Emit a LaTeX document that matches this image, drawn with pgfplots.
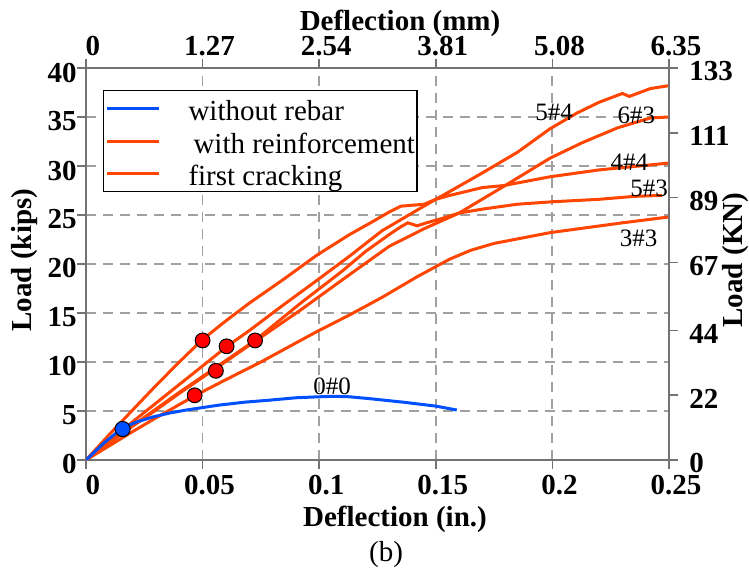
\documentclass[border=0pt]{standalone}
\usepackage{fontspec}
\setmainfont{Liberation Serif}
\usepackage{pgfplots}
\pgfplotsset{compat=1.18}
\definecolor{cOr}{RGB}{255,69,0}
\definecolor{cBl}{RGB}{0,80,255}
\definecolor{cAx}{RGB}{115,115,115}
\definecolor{cGr}{RGB}{160,160,160}
\begin{document}
\begin{tikzpicture}
\pgfplotsset{
 base/.style={scale only axis, width=291.5pt, height=196pt,
   xmin=0,xmax=0.25,ymin=0,ymax=40,
   axis line style={cAx, line width=1pt},
   tick style={cAx, line width=0.8pt},
   tick align=outside,
   major tick length=4.5pt,
   /pgf/number format/assume math mode=true,
   tick label style={font=\fontsize{14.5}{17}\selectfont\bfseries, inner sep=0pt},
   label style={font=\fontsize{14.5}{17}\selectfont\bfseries},
 }
}
\begin{axis}[base, name=ax,
 axis x line*=bottom, axis y line*=left,
 xtick={0,0.05,0.1,0.15,0.2,0.25}, xticklabels={0,0.05,0.1,0.15,0.2,0.25},
 ytick={0,5,...,40},
 grid=major, grid style={cGr, dash pattern=on 5pt off 3.5pt, line width=0.9pt},
 xticklabel style={anchor=base, yshift=-13pt, xshift=3.5pt},
 yticklabel style={anchor=east, xshift=0pt, yshift=-2.25pt},
 xlabel={Deflection (in.)}, ylabel={Load (kips)},
 xlabel style={at={(axis description cs:0.53,-0.1709)}, anchor=base},
 ylabel style={at={(axis description cs:-0.1063,0.51)}, anchor=center},
 legend cell align=left,
 legend image code/.code={\draw[#1, line width=1.5pt] (0pt,0pt) -- (26pt,0pt);},
 legend style={at={(rel axis cs:0.029,0.944)}, anchor=north west, draw=black, line width=0.6pt,
   fill=white, font=\fontsize{14.5}{17}\selectfont, inner xsep=1pt, inner ysep=3pt,
   row sep=4.25pt, column sep=14pt, nodes={inner sep=0pt, text height=12pt, text depth=0pt}},
]
\addlegendimage{cBl}\addlegendentry{without rebar}
\addlegendimage{cOr}\addlegendentry{\hspace{2.5pt}with reinforcement}
\addlegendimage{cOr}\addlegendentry{first cracking}

% 3#3
\addplot[cOr, line width=1.5pt, forget plot] coordinates {(0,0)(0.01,1.45)(0.02,2.9)(0.03,4.3)(0.047,6.6)(0.06,8.2)(0.075,10.0)(0.092,12.2)(0.099,13.1)(0.113,14.8)(0.127,16.6)(0.142,18.7)(0.156,20.5)(0.165,21.4)(0.175,22.1)(0.199,23.2)(0.23,24.2)(0.25,24.8)};
% 6#3
\addplot[cOr, line width=1.5pt, forget plot] coordinates {(0,0)(0.01,1.75)(0.02,3.45)(0.03,5.1)(0.04,6.8)(0.056,9.4)(0.07,11.7)(0.092,15.3)(0.11,18.4)(0.13,21.8)(0.145,23.6)(0.16,25.2)(0.179,27.9)(0.199,30.8)(0.213,32.4)(0.228,33.9)(0.242,34.9)(0.25,35.0)};
% 5#3
\addplot[cOr, line width=1.5pt, forget plot] coordinates {(0,0)(0.01,1.8)(0.02,3.5)(0.03,5.2)(0.04,6.9)(0.056,9.5)(0.0725,12.2)(0.092,16.0)(0.11,19.3)(0.12,21.3)(0.13,23.0)(0.135,23.8)(0.138,24.2)(0.142,23.9)(0.146,24.2)(0.152,24.6)(0.16,25.2)(0.17,25.6)(0.185,26.1)(0.2,26.35)(0.22,26.6)(0.235,26.9)(0.247,27.0)};
% 5#4
\addplot[cOr, line width=1.5pt, forget plot] coordinates {(0,0)(0.01,1.9)(0.02,3.9)(0.03,5.8)(0.04,7.7)(0.05,9.6)(0.0605,11.6)(0.07,13.2)(0.0845,15.8)(0.096,17.8)(0.113,20.8)(0.127,23.4)(0.142,25.5)(0.15,26.6)(0.156,27.4)(0.17,29.3)(0.185,31.4)(0.199,33.8)(0.2105,35.4)(0.22,36.5)(0.23,37.4)(0.233,37.1)(0.242,37.9)(0.25,38.2)};
% 4#4
\addplot[cOr, line width=1.5pt, forget plot] coordinates {(0,0)(0.01,2.6)(0.02,5.1)(0.03,7.6)(0.04,10.0)(0.05,12.3)(0.06,14.2)(0.07,16.0)(0.0845,18.4)(0.099,20.9)(0.113,23.0)(0.122,24.2)(0.13,25.3)(0.135,25.9)(0.14,26.0)(0.145,26.1)(0.15,26.6)(0.156,27.0)(0.17,27.8)(0.179,28.0)(0.199,28.9)(0.22,29.6)(0.25,30.3)};
% 0#0
\addplot[cBl, line width=1.5pt, forget plot] coordinates {(0,0)(0.008,1.8)(0.0158,3.3)(0.022,3.9)(0.0288,4.4)(0.036,4.8)(0.043,5.1)(0.05,5.35)(0.057,5.6)(0.068,5.9)(0.0785,6.1)(0.09,6.35)(0.1,6.45)(0.106,6.5)(0.113,6.45)(0.122,6.25)(0.13,6.05)(0.136,5.9)(0.143,5.7)(0.15,5.5)(0.159,5.1)};
% first cracking
\addplot[only marks, mark=*, mark size=3.7pt, mark options={fill=red, draw=black, line width=0.5pt}, forget plot] coordinates {(0.050,12.2)(0.0603,11.6)(0.0725,12.2)(0.0557,9.1)(0.0466,6.6)};
\addplot[only marks, mark=*, mark size=3.8pt, mark options={fill=cBl, draw=black, line width=0.5pt}, forget plot] coordinates {(0.0157,3.16)};

\begin{scope}[font=\fontsize{12.5}{14}\selectfont]
\node at (axis cs:0.2007,35.5) {5\#4};
\node at (axis cs:0.236,35.2) {6\#3};
\node at (axis cs:0.233,30.4) {4\#4};
\node at (axis cs:0.2415,27.7) {5\#3};
\node at (axis cs:0.237,22.6) {3\#3};
\node at (axis cs:0.1055,7.5) {0\#0};
\end{scope}
\end{axis}

\begin{axis}[base,
 xmin=0, xmax=6.35, ymin=0, ymax=133,
 axis x line*=top, axis y line*=right,
 xtick={0,1.27,2.54,3.81,5.08,6.35}, xticklabels={0,1.27,2.54,3.81,5.08,6.35},
 ytick={0,22,44,67,89,111,133},
 xticklabel style={anchor=base, yshift=1.5pt, xshift=3.5pt},
 yticklabel style={anchor=west, xshift=5.5pt, yshift=-1.75pt},
 xlabel={Deflection (mm)}, ylabel={Load (KN)},
 xlabel style={at={(axis description cs:0.5386,1.0969)}, anchor=base},
 ylabel style={at={(axis description cs:1.1149,0.51)}, anchor=center},
]
\addplot[draw=none] coordinates {(0,0)};
\end{axis}

\node[font=\fontsize{14.5}{17}\selectfont, anchor=base] at ([shift={(150pt,-51pt)}]ax.south west) {(b)};

\pgfresetboundingbox
\path[use as bounding box] ([shift={(-43pt,-55.5pt)}]ax.south west) rectangle ([shift={(40pt,34pt)}]ax.north east);
\end{tikzpicture}
\end{document}
